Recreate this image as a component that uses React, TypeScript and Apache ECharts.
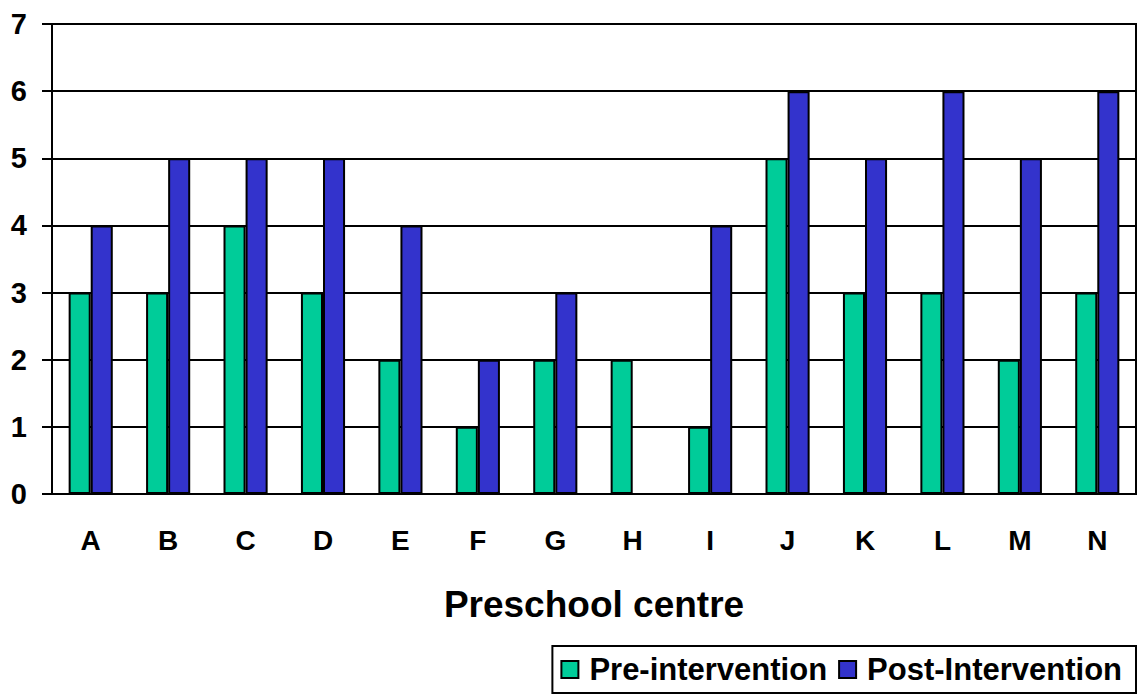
import React, { useEffect, useRef } from "react";
import * as echarts from "echarts";

const categories = ["A", "B", "C", "D", "E", "F", "G", "H", "I", "J", "K", "L", "M", "N"];
const preValues = [3, 3, 4, 3, 2, 1, 2, 2, 1, 5, 3, 3, 2, 3];
const postValues = [4, 5, 5, 5, 4, 2, 3, 0, 4, 6, 5, 6, 5, 6];
const seriesNames = ["Pre-intervention", "Post-Intervention"];
const xAxisTitle = "Preschool centre";

const FONT = "Liberation Sans, Arial, Helvetica, sans-serif";

export default function App() {
  const ref = useRef<HTMLDivElement>(null);
  useEffect(() => {
    if (!ref.current) return;
    const chart = echarts.init(ref.current, null, { renderer: "svg" });
    chart.setOption({
      animation: false,
      backgroundColor: "#ffffff",
      textStyle: { fontFamily: FONT },
      grid: {
        left: 52,
        right: 3,
        top: 24,
        bottom: 202,
        show: true,
        borderColor: "#000",
        borderWidth: 2,
        containLabel: false,
      },
      legend: {
        right: 3,
        bottom: 3,
        orient: "horizontal",
        data: seriesNames,
        icon: "rect",
        itemWidth: 17,
        itemHeight: 17,
        itemGap: 11,
        borderColor: "#000",
        borderWidth: 2,
        padding: [8, 14, 8, 8],
        itemStyle: { borderColor: "#000", borderWidth: 2 },
        textStyle: { fontSize: 31, fontWeight: "bold", color: "#000", fontFamily: FONT, padding: [0, 0, 0, 6] },
      },
      xAxis: {
        type: "category",
        data: categories,
        name: xAxisTitle,
        nameLocation: "middle",
        nameGap: 92,
        nameTextStyle: { fontSize: 37, fontWeight: "bold", color: "#000", fontFamily: FONT },
        axisLine: { show: true, lineStyle: { color: "#000", width: 2 } },
        axisTick: { show: false },
        axisLabel: { fontSize: 28, fontWeight: "bold", color: "#000", margin: 32, fontFamily: FONT },
      },
      yAxis: {
        type: "value",
        min: 0,
        max: 7,
        interval: 1,
        axisLine: { show: true, lineStyle: { color: "#000", width: 2 } },
        axisTick: { show: true, length: 10, lineStyle: { color: "#000", width: 2 } },
        splitLine: { show: true, lineStyle: { color: "#000", width: 2 } },
        axisLabel: { fontSize: 29, fontWeight: "bold", color: "#000", margin: 25, fontFamily: FONT },
      },
      series: [
        {
          name: seriesNames[0],
          type: "bar",
          data: preValues,
          barGap: "0%",
          barCategoryGap: "43%",
          itemStyle: { color: "#00CC99", borderColor: "#000", borderWidth: 2 },
        },
        {
          name: seriesNames[1],
          type: "bar",
          data: postValues,
          barGap: "0%",
          barCategoryGap: "43%",
          itemStyle: { color: "#3333CC", borderColor: "#000", borderWidth: 2 },
        },
      ],
    });
    return () => chart.dispose();
  }, []);
  return (
    <div
      ref={ref}
      style={{ position: "fixed", left: 0, top: 0, width: 1139, height: 696, background: "#fff" }}
    />
  );
}
